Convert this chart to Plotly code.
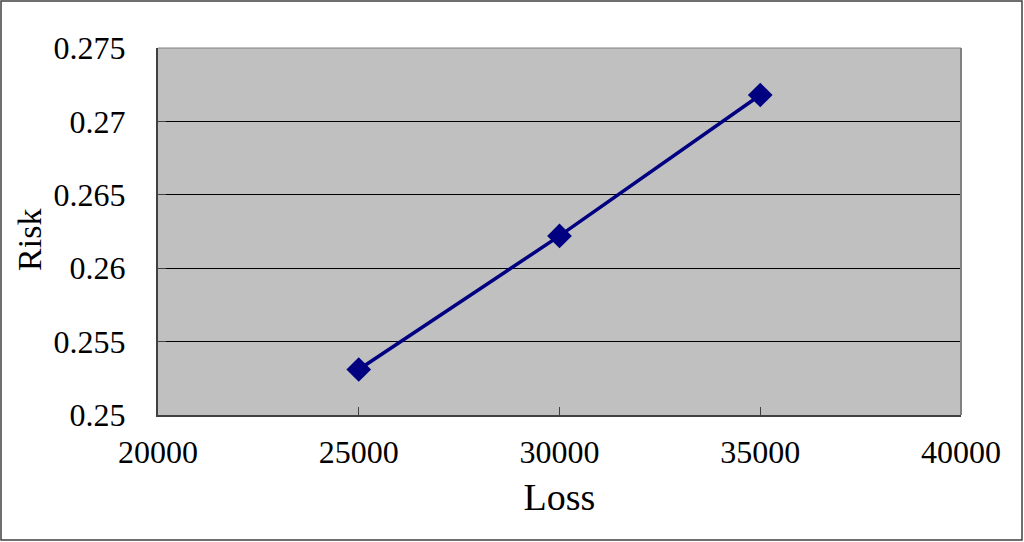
import plotly.graph_objects as go

# Data
loss = [25000, 30000, 35000]
risk = [0.2531, 0.2622, 0.2718]

x_ticks = [20000, 25000, 30000, 35000, 40000]
y_ticks = [0.25, 0.255, 0.26, 0.265, 0.27, 0.275]
y_labels = ["0.25", "0.255", "0.26", "0.265", "0.27", "0.275"]

W, H = 1024, 542
L, R, T, B = 158, 63, 48, 127
pw, ph = W - L - R, H - T - B

FAMILY = "Liberation Serif, Times New Roman, serif"

fig = go.Figure(
    go.Scatter(
        x=loss, y=risk,
        mode="lines+markers",
        line=dict(color="#000080", width=3.5),
        marker=dict(symbol="diamond", size=19, color="#000080"),
    )
)

fig.update_layout(
    width=W, height=H,
    margin=dict(l=L, r=R, t=T, b=B),
    paper_bgcolor="white",
    plot_bgcolor="#c0c0c0",
    font=dict(family=FAMILY, size=32, color="black"),
    showlegend=False,
    xaxis=dict(
        range=[20000, 40000], tickvals=x_ticks, ticktext=[str(v) for v in x_ticks],
        showgrid=False, zeroline=False,
        showline=True, linecolor="#404040", linewidth=2, mirror=False,
        ticks="inside", ticklen=8, tickcolor="#404040",
        ticklabelstandoff=8,
        title=dict(text="Loss", standoff=14),
    ),
    yaxis=dict(
        range=[0.25, 0.275], tickvals=y_ticks, ticktext=y_labels,
        showgrid=True, gridcolor="black", gridwidth=1, zeroline=False,
        showline=True, linecolor="#404040", linewidth=2,
        ticks="inside", ticklen=8, tickcolor="#404040",
        ticklabelstandoff=24,
    ),
    # y-axis title placed by hand so it sits where the original has it
    annotations=[
        dict(text="Risk", xref="paper", yref="paper", x=(30 - L) / pw, y=0.477,
             xanchor="center", yanchor="middle", textangle=-90, showarrow=False,
             font=dict(family=FAMILY, size=34, color="black")),
    ],
    shapes=[
        # right and top edges of the plot area
        dict(type="line", xref="paper", yref="paper", x0=1, x1=1, y0=0, y1=1,
             line=dict(color="#808080", width=2)),
        dict(type="line", xref="paper", yref="paper", x0=0, x1=1, y0=1, y1=1,
             line=dict(color="#808080", width=1)),
        # outer frame of the chart
        dict(type="rect", xref="paper", yref="paper",
             x0=(1 - L) / pw, x1=(W - 2 - L) / pw,
             y0=(T + ph - (H - 2)) / ph, y1=(T + ph - 1) / ph,
             line=dict(color="#404040", width=1.5)),
    ],
)

fig.write_html(
    "out.html",
    config={"displayModeBar": False},
    post_script="document.body.style.margin='0';document.body.style.overflow='hidden';",
)
